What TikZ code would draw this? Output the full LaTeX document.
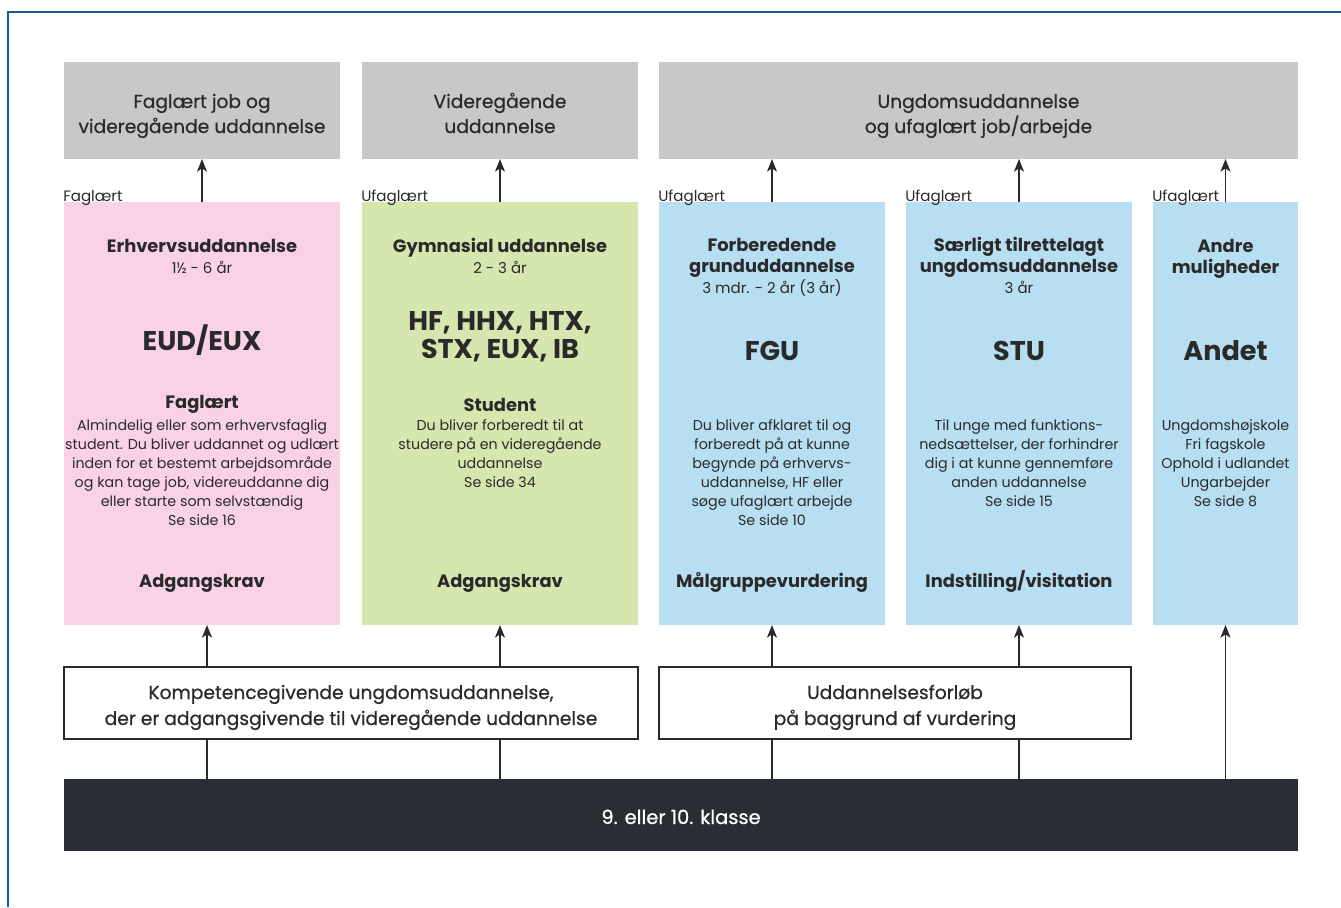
\documentclass[tikz,border=0pt]{standalone}
\usepackage{fontspec}
\setmainfont{Poppins}
\newfontfamily\medfont[FakeBold=0.6]{Poppins}
\usetikzlibrary{arrows.meta}
\definecolor{frameblue}{HTML}{1E5A8C}
\definecolor{boxgray}{HTML}{C7C8CA}
\definecolor{boxpink}{HTML}{F9D3E5}
\definecolor{boxgreen}{HTML}{D5E6AF}
\definecolor{boxblue}{HTML}{B8DFF1}
\definecolor{bardark}{HTML}{292D34}
\definecolor{txt}{HTML}{2A2A2A}
\newcommand{\fz}[2]{\fontsize{#1}{#2}\selectfont}
\tikzset{
  box/.style={rectangle, draw=none, inner sep=0pt, outer sep=0pt},
  whitebox/.style={rectangle, draw=txt, line width=1.1pt, fill=white, inner sep=0pt, outer sep=0pt},
  conn/.style={draw=txt, line width=1.1pt},
  arr/.style={conn, -{Stealth[length=9.5pt, width=7.5pt, inset=2.5pt]}},
  txtnode/.style={anchor=base, align=center, inner sep=0pt, text=txt},
  hd/.style={txtnode, font=\bfseries\fz{13.4pt}{15.75pt}},
  sub/.style={txtnode, font=\fz{11.25pt}{14pt}},
  big/.style={txtnode, font=\bfseries\fz{20.3pt}{21pt}},
  body/.style={txtnode, font=\fz{10.7pt}{14.25pt}},
  graytxt/.style={txtnode, font=\medfont\fz{14pt}{18.75pt}},
  whitetxt/.style={txtnode, font=\medfont\fz{14pt}{19.5pt}},
  lbl/.style={anchor=base west, inner sep=0pt, text=txt, font=\fz{11.3pt}{12pt}},
}
\begin{document}
\begin{tikzpicture}[x=0.75pt,y=-0.75pt]
\useasboundingbox (0,0) rectangle (1341,907);
% frame
\draw[frameblue, line width=1.1pt] (8,907) -- (8,12) -- (1341,12);

% gray outcome boxes
\node[box, fill=boxgray, minimum width=0.75pt*276, minimum height=0.75pt*97] (g1) at (202,110.5) {};
\node[box, fill=boxgray, minimum width=0.75pt*276, minimum height=0.75pt*97] (g2) at (500,110.5) {};
\node[box, fill=boxgray, minimum width=0.75pt*639, minimum height=0.75pt*97] (g3) at (978.5,110.5) {};

% coloured boxes
\node[box, fill=boxpink, minimum width=0.75pt*276, minimum height=0.75pt*423] (c1) at (202,413.5) {};
\node[box, fill=boxgreen, minimum width=0.75pt*276, minimum height=0.75pt*423] (c2) at (500,413.5) {};
\node[box, fill=boxblue, minimum width=0.75pt*226, minimum height=0.75pt*423] (c3) at (772,413.5) {};
\node[box, fill=boxblue, minimum width=0.75pt*226, minimum height=0.75pt*423] (c4) at (1019,413.5) {};
\node[box, fill=boxblue, minimum width=0.75pt*145, minimum height=0.75pt*423] (c5) at (1225.5,413.5) {};

% white boxes
\node[whitebox, minimum width=0.75pt*574, minimum height=0.75pt*72] (w1) at (351,703) {};
\node[whitebox, minimum width=0.75pt*472, minimum height=0.75pt*72] (w2) at (895,703) {};

% dark bar
\node[box, fill=bardark, minimum width=0.75pt*1234, minimum height=0.75pt*72] (bar) at (681,815) {};
\node[txtnode, text=white, font=\medfont\fz{14.6pt}{15pt}] (bartxt) at (681,824) {9. eller 10. klasse};

% gray box texts (anchor = baseline of last line)
\node[graytxt] (g1t) at (202,133) {Faglært job og\\videregående uddannelse};
\node[graytxt] (g2t) at (500,133) {Videregående\\uddannelse};
\node[graytxt] (g3t) at (978.5,133) {Ungdomsuddannelse\\og ufaglært job/arbejde};

% labels above coloured boxes
\node[lbl] (l1) at (63,201) {Faglært};
\node[lbl] (l2) at (361,201) {Ufaglært};
\node[lbl] (l3) at (658,201) {Ufaglært};
\node[lbl] (l4) at (905,201) {Ufaglært};
\node[lbl] (l5) at (1152,201) {Ufaglært};

% pink box
\node[hd] (c1h) at (202,252) {Erhvervsuddannelse};
\node[sub] (c1s) at (202,273) {1½ - 6 år};
\node[big] (c1b) at (202,350) {EUD/EUX};
\node[hd] (c1f) at (202,408) {Faglært};
\node[body] (c1t) at (202,525) {Almindelig eller som erhvervsfaglig\\student. Du bliver uddannet og udlært\\inden for et bestemt arbejdsområde\\og kan tage job, videreuddanne dig\\eller starte som selvstændig\\Se side 16};
\node[hd] (c1a) at (202,587) {Adgangskrav};

% green box
\node[hd] (c2h) at (500,252) {Gymnasial uddannelse};
\node[sub] (c2s) at (500,273) {2 - 3 år};
\node[big] (c2b) at (500,358) {HF, HHX, HTX,\\STX, EUX, IB};
\node[hd] (c2f) at (500,411) {Student};
\node[body] (c2t) at (500,487) {Du bliver forberedt til at\\studere på en videregående\\uddannelse\\Se side 34};
\node[hd] (c2a) at (500,587) {Adgangskrav};

% FGU box
\node[hd] (c3h) at (772,272) {Forberedende\\grunduddannelse};
\node[sub] (c3s) at (772,293) {3 mdr. - 2 år (3 år)};
\node[big] (c3b) at (772,360) {FGU};
\node[body] (c3t) at (772,525) {Du bliver afklaret til og\\forberedt på at kunne\\begynde på erhvervs-\\uddannelse, HF eller\\søge ufaglært arbejde\\Se side 10};
\node[hd] (c3a) at (772,587) {Målgruppevurdering};

% STU box
\node[hd] (c4h) at (1019,272) {Særligt tilrettelagt\\ungdomsuddannelse};
\node[sub] (c4s) at (1019,293) {3 år};
\node[big] (c4b) at (1019,360) {STU};
\node[body] (c4t) at (1019,506) {Til unge med funktions-\\nedsættelser, der forhindrer\\dig i at kunne gennemføre\\anden uddannelse\\Se side 15};
\node[hd] (c4a) at (1019,587) {Indstilling/visitation};

% Andre box
\node[hd] (c5h) at (1225.5,273) {Andre\\muligheder};
\node[big] (c5b) at (1225.5,360) {Andet};
\node[body] (c5t) at (1225.5,506) {Ungdomshøjskole\\Fri fagskole\\Ophold i udlandet\\Ungarbejder\\Se side 8};

% white box texts
\node[whitetxt] (w1t) at (351,725) {Kompetencegivende ungdomsuddannelse,\\der er adgangsgivende til videregående uddannelse};
\node[whitetxt] (w2t) at (895,725) {Uddannelsesforløb\\på baggrund af vurdering};

% connectors: coloured boxes to outcomes
\draw[arr] (c1.north) -- (g1.south);
\draw[arr] (c2.north) -- (g2.south);
\draw[arr] (c3.north) -- (c3.north |- g3.south);
\draw[arr] (c4.north) -- (c4.north |- g3.south);
\draw[arr] (c5.north) -- (c5.north |- g3.south);

% connectors: bar to white boxes and white boxes to coloured boxes
\coordinate (xa) at (207,0);
\draw[conn] (bar.north -| xa) -- (w1.south -| xa);
\draw[arr] (w1.north -| xa) -- (c1.south -| xa);
\draw[conn] (bar.north -| c2) -- (w1.south -| c2);
\draw[arr] (w1.north -| c2) -- (c2.south);
\draw[conn] (bar.north -| c3) -- (w2.south -| c3);
\draw[arr] (w2.north -| c3) -- (c3.south);
\draw[conn] (bar.north -| c4) -- (w2.south -| c4);
\draw[arr] (w2.north -| c4) -- (c4.south);
\draw[arr] (bar.north -| c5) -- (c5.south);
\end{tikzpicture}
\end{document}
